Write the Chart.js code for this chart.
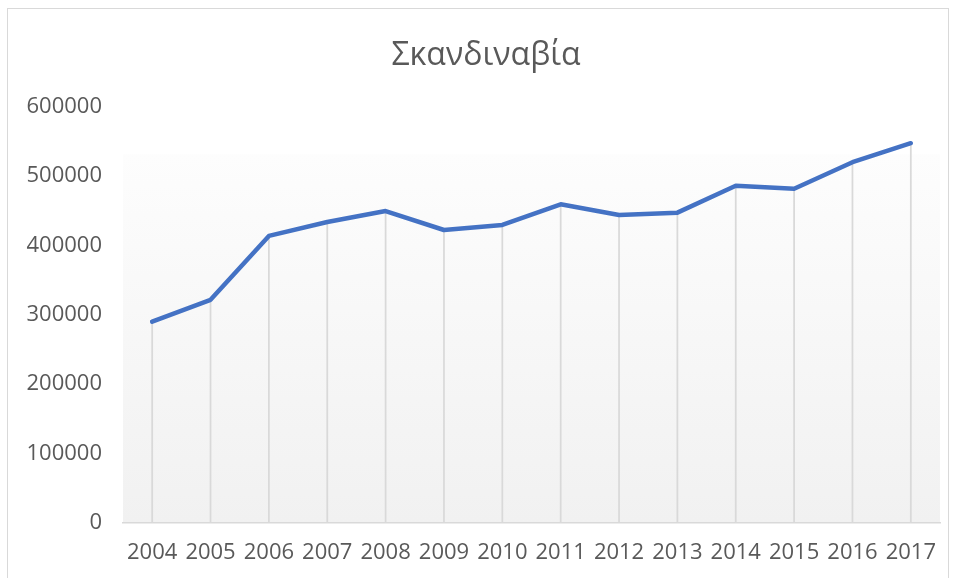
<!DOCTYPE html>
<html>
<head>
<meta charset="utf-8">
<script src="https://cdn.jsdelivr.net/npm/chart.js@4"></script>
<style>
  html, body { margin: 0; padding: 0; background: #ffffff; }
  #wrap { position: relative; width: 956px; height: 578px; overflow: hidden; }
  #frame { position: absolute; left: 7px; top: 8px; width: 942px; height: 600px; border: 1px solid #d9d9d9; box-sizing: border-box; }
  canvas { position: absolute; left: 0; top: 0; }
</style>
</head>
<body>
<div id="wrap">
  <div id="frame"></div>
  <canvas id="c" width="956" height="578"></canvas>
</div>
<script>
const chartTitle = 'Σκανδιναβία';
const years = ['2004','2005','2006','2007','2008','2009','2010','2011','2012','2013','2014','2015','2016','2017'];
const values = [290000, 321500, 413500, 433500, 449300, 422000, 429200, 459000, 443500, 447000, 485800, 481500, 519600, 547000];
const yMin = 0;
const yMax = 600000;
const yStep = 100000;

const plotBackground = {
  id: 'plotBackground',
  beforeDraw(chart) {
    const { ctx, chartArea: a } = chart;
    const top = a.top + (a.bottom - a.top) * 0.115;
    const g = ctx.createLinearGradient(0, top, 0, a.bottom);
    g.addColorStop(0, '#fdfdfd');
    g.addColorStop(1, '#f1f1f1');
    ctx.save();
    ctx.fillStyle = g;
    ctx.fillRect(a.left, top, a.right - a.left, a.bottom - top);
    ctx.restore();
  }
};

const dropLines = {
  id: 'dropLines',
  beforeDatasetsDraw(chart) {
    const { ctx } = chart;
    const yScale = chart.scales.y;
    const base = yScale.getPixelForValue(yMin);
    const meta = chart.getDatasetMeta(0);
    ctx.save();
    ctx.strokeStyle = '#d9d9d9';
    ctx.lineWidth = 1.75;
    meta.data.forEach(pt => {
      ctx.beginPath();
      ctx.moveTo(pt.x, pt.y);
      ctx.lineTo(pt.x, base);
      ctx.stroke();
    });
    ctx.restore();
  }
};

new Chart(document.getElementById('c'), {
  type: 'line',
  data: {
    labels: years,
    datasets: [{
      data: values,
      yAxisID: 'y',
      borderColor: '#4472C4',
      borderWidth: 4.5,
      pointRadius: 0,
      pointHoverRadius: 0,
      tension: 0,
      fill: false,
      borderCapStyle: 'round',
      borderJoinStyle: 'round'
    }]
  },
  options: {
    responsive: false,
    animation: false,
    devicePixelRatio: 1,
    layout: { padding: { top: 0, left: 16, right: 0, bottom: 0 } },
    plugins: {
      legend: { display: false },
      tooltip: { enabled: false },
      title: {
        display: true,
        text: chartTitle,
        color: '#595959',
        font: { family: 'Open Sans', size: 32, weight: 'normal', lineHeight: 1.2 },
        padding: { top: 37, bottom: 31 }
      }
    },
    scales: {
      x: {
        offset: true,
        grid: { display: false, drawTicks: false },
        border: { display: true, color: '#d9d9d9', width: 1.5 },
        ticks: {
          color: '#595959',
          font: { family: 'Open Sans', size: 22 },
          padding: 17,
          maxRotation: 0,
          autoSkip: false
        },
        afterFit(s) { s.height = 55; }
      },
      y: {
        min: yMin,
        max: yMax,
        grid: { display: false, drawTicks: false },
        border: { display: false },
        ticks: {
          stepSize: yStep,
          color: '#595959',
          font: { family: 'Open Sans', size: 22 },
          padding: 21,
          callback: v => String(v)
        },
        afterFit(s) { s.width = 107; }
      },
      yRight: {
        position: 'right',
        min: yMin,
        max: yMax,
        grid: { display: false, drawTicks: false },
        border: { display: false },
        ticks: { display: false },
        afterFit(s) { s.width = 16; }
      }
    }
  },
  plugins: [plotBackground, dropLines]
});
</script>
</body>
</html>
